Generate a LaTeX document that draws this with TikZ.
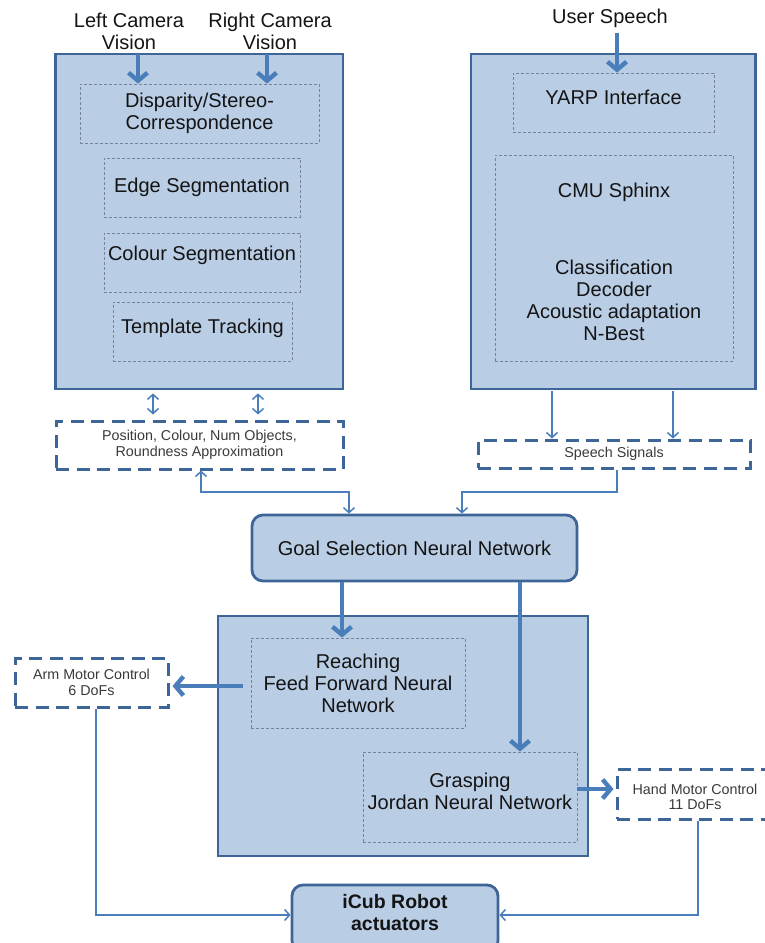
\documentclass[tikz,border=0pt]{standalone}
\usepackage{fontspec}
\setmainfont{Liberation Sans}
\usetikzlibrary{arrows.meta}
\definecolor{boxfill}{HTML}{B9CDE5}
\definecolor{boxborder}{HTML}{3D6598}
\definecolor{arrowblue}{HTML}{4A7EBB}
\definecolor{innergrey}{HTML}{77839A}
\definecolor{txt}{HTML}{141414}
\definecolor{smalltxt}{HTML}{3A3A3A}
\newcommand{\mfont}{\fontsize{20}{22}\selectfont}
\newcommand{\sfont}{\fontsize{14.3}{15.5}\selectfont}
\tikzset{
  bigbox/.style={draw=boxborder, fill=boxfill, line width=2.8pt, inner sep=0pt},
  innerbox/.style={draw=innergrey, dash pattern=on 3pt off 2pt, line width=0.8pt, inner sep=0pt, align=center, text=txt, font=\mfont},
  outerdash/.style={draw=boxborder, fill=white, line width=3pt, dash pattern=on 13pt off 7.5pt, inner sep=0pt, align=center, text=smalltxt, font=\sfont},
  roundbox/.style={draw=boxborder, fill=boxfill, line width=2.8pt, rounded corners=11pt, inner sep=0pt, align=center, text=txt},
  plain/.style={align=center, text=txt, font=\mfont, inner sep=0pt},
  thickarrow/.style={draw=arrowblue, line width=4.4pt, -{Straight Barb[length=8pt,width=19pt]}},
  thinarrow/.style={draw=arrowblue, line width=1.5pt, -{Straight Barb[length=5pt,width=11pt]}},
  thinline/.style={draw=arrowblue, line width=1.5pt},
}
\begin{document}
\begin{tikzpicture}[x=1pt,y=-1pt]
\useasboundingbox (0,0) rectangle (764,943);

% top labels
\node[plain] (lcam) at (129,31) {Left Camera\\Vision};
\node[plain] (rcam) at (270,31) {Right Camera\\Vision};
\node[plain] (uspeech) at (610,18) {User Speech};

% big boxes
\node[bigbox, minimum width=287.5pt, minimum height=335pt] (leftbox) at (199.25,221.5) {};
\node[bigbox, minimum width=284.5pt, minimum height=335pt] (rightbox) at (613.25,221.5) {};
\node[bigbox, minimum width=370pt, minimum height=240pt] (botbox) at (403,736) {};

% inner dashed boxes (left)
\node[innerbox, minimum width=239pt, minimum height=59pt] (disp) at (199.5,113.5) {Disparity/Stereo-\\Correspondence};
\node[innerbox, minimum width=196pt, minimum height=59pt] (edge) at (202,187.5) {Edge Segmentation};
\node[innerbox, minimum width=196pt, minimum height=59pt] (colour) at (202,262.5) {};
\node[plain] (colourtxt) at (202,255) {Colour Segmentation};
\node[innerbox, minimum width=179pt, minimum height=59pt] (templ) at (202.5,331.5) {};
\node[plain] (templtxt) at (202.5,328) {Template Tracking};

% inner dashed boxes (right)
\node[innerbox, minimum width=201pt, minimum height=59pt] (yarp) at (613.5,102.5) {};
\node[plain] (yarptxt) at (613.5,97) {YARP Interface};
\node[innerbox, minimum width=238pt, minimum height=206pt] (cmu) at (614,258) {};
\node[plain] (cmutxt) at (614,192) {CMU Sphinx};
\node[plain] (cmulist) at (614,300) {Classification\\Decoder\\Acoustic adaptation\\N-Best};

% outer dashed boxes
\node[outerdash, minimum width=287pt, minimum height=48pt] (pos) at (199.5,445) {Position, Colour, Num Objects,\\Roundness Approximation};
\node[outerdash, minimum width=272pt, minimum height=28pt] (speech) at (614,454) {Speech Signals};

% goal
\node[roundbox, minimum width=325pt, minimum height=66pt, font=\mfont] (goal) at (414.5,548) {Goal Selection Neural Network};

% bottom inner boxes
\node[innerbox, minimum width=214pt, minimum height=90pt] (reach) at (358,683) {Reaching\\Feed Forward Neural\\Network};
\node[innerbox, minimum width=214pt, minimum height=90pt] (grasp) at (470,797) {};
\node[plain] (grasptxt) at (470,791.5) {Grasping\\Jordan Neural Network};

% motor control boxes
\node[outerdash, minimum width=153pt, minimum height=49pt] (arm) at (91.5,682.5) {Arm Motor Control\\6 DoFs};
\node[outerdash, minimum width=156pt, minimum height=50pt] (hand) at (695,794) {};
\node[plain, font=\sfont, text=smalltxt] (handtxt) at (695,797) {Hand Motor Control\\11 DoFs};

% iCub
\node[roundbox, minimum width=206pt, minimum height=67pt] (icub) at (395,918.5) {};
\node[plain, font=\bfseries\fontsize{19.5}{22}\selectfont] (icubtxt) at (395,913) {iCub Robot\\actuators};

% coordinates
\coordinate (la) at (138,54);
\coordinate (ra) at (267,54);
\coordinate (ua) at (617,33);
\coordinate (d1) at (153,0);
\coordinate (d2) at (258,0);
\coordinate (s1) at (552,0);
\coordinate (s2) at (673,0);
\coordinate (j1) at (201,492);
\coordinate (j2) at (349,492);
\coordinate (j3) at (617,492);
\coordinate (j4) at (462,492);
\coordinate (k1) at (342,0);
\coordinate (k2) at (520,0);
\coordinate (ry) at (0,686);
\coordinate (hy) at (0,789);
\coordinate (a1) at (96,915);
\coordinate (a2) at (698,915);

% connectors
\draw[thickarrow] (la) -- (la |- disp.north);
\draw[thickarrow] (ra) -- (ra |- disp.north);
\draw[thickarrow] (ua) -- (ua |- yarp.north);

\draw[thinline, {Straight Barb[length=5pt,width=11pt]}-{Straight Barb[length=5pt,width=11pt]}, shorten <=3pt, shorten >=5pt] (leftbox.south -| d1) -- (pos.north -| d1);
\draw[thinline, {Straight Barb[length=5pt,width=11pt]}-{Straight Barb[length=5pt,width=11pt]}, shorten <=3pt, shorten >=5pt] (leftbox.south -| d2) -- (pos.north -| d2);

\draw[thinarrow, shorten <=1pt] (rightbox.south -| s1) -- (speech.north -| s1);
\draw[thinarrow, shorten <=1pt] (rightbox.south -| s2) -- (speech.north -| s2);

\draw[thinline, {Straight Barb[length=5pt,width=11pt]}-{Straight Barb[length=5pt,width=11pt]}] (pos.south -| j1) -- (j1) -- (j2) -- (j2 |- goal.north);
\draw[thinarrow] (speech.south -| j3) -- (j3) -- (j4) -- (j4 |- goal.north);

\draw[thickarrow] (goal.south -| k1) -- (k1 |- reach.north);
\draw[thickarrow] (goal.south -| k2) -- (k2 |- grasp.north);

\draw[thickarrow, shorten <=8pt, shorten >=3pt] (reach.west |- ry) -- (arm.east |- ry);
\draw[thickarrow, shorten >=2pt] (grasp.east |- hy) -- (hand.west |- hy);

\draw[thinarrow] (arm.south -| a1) -- (a1) -- (icub.west |- a1);
\draw[thinarrow] (hand.south -| a2) -- (a2) -- (icub.east |- a2);
\end{tikzpicture}
\end{document}
